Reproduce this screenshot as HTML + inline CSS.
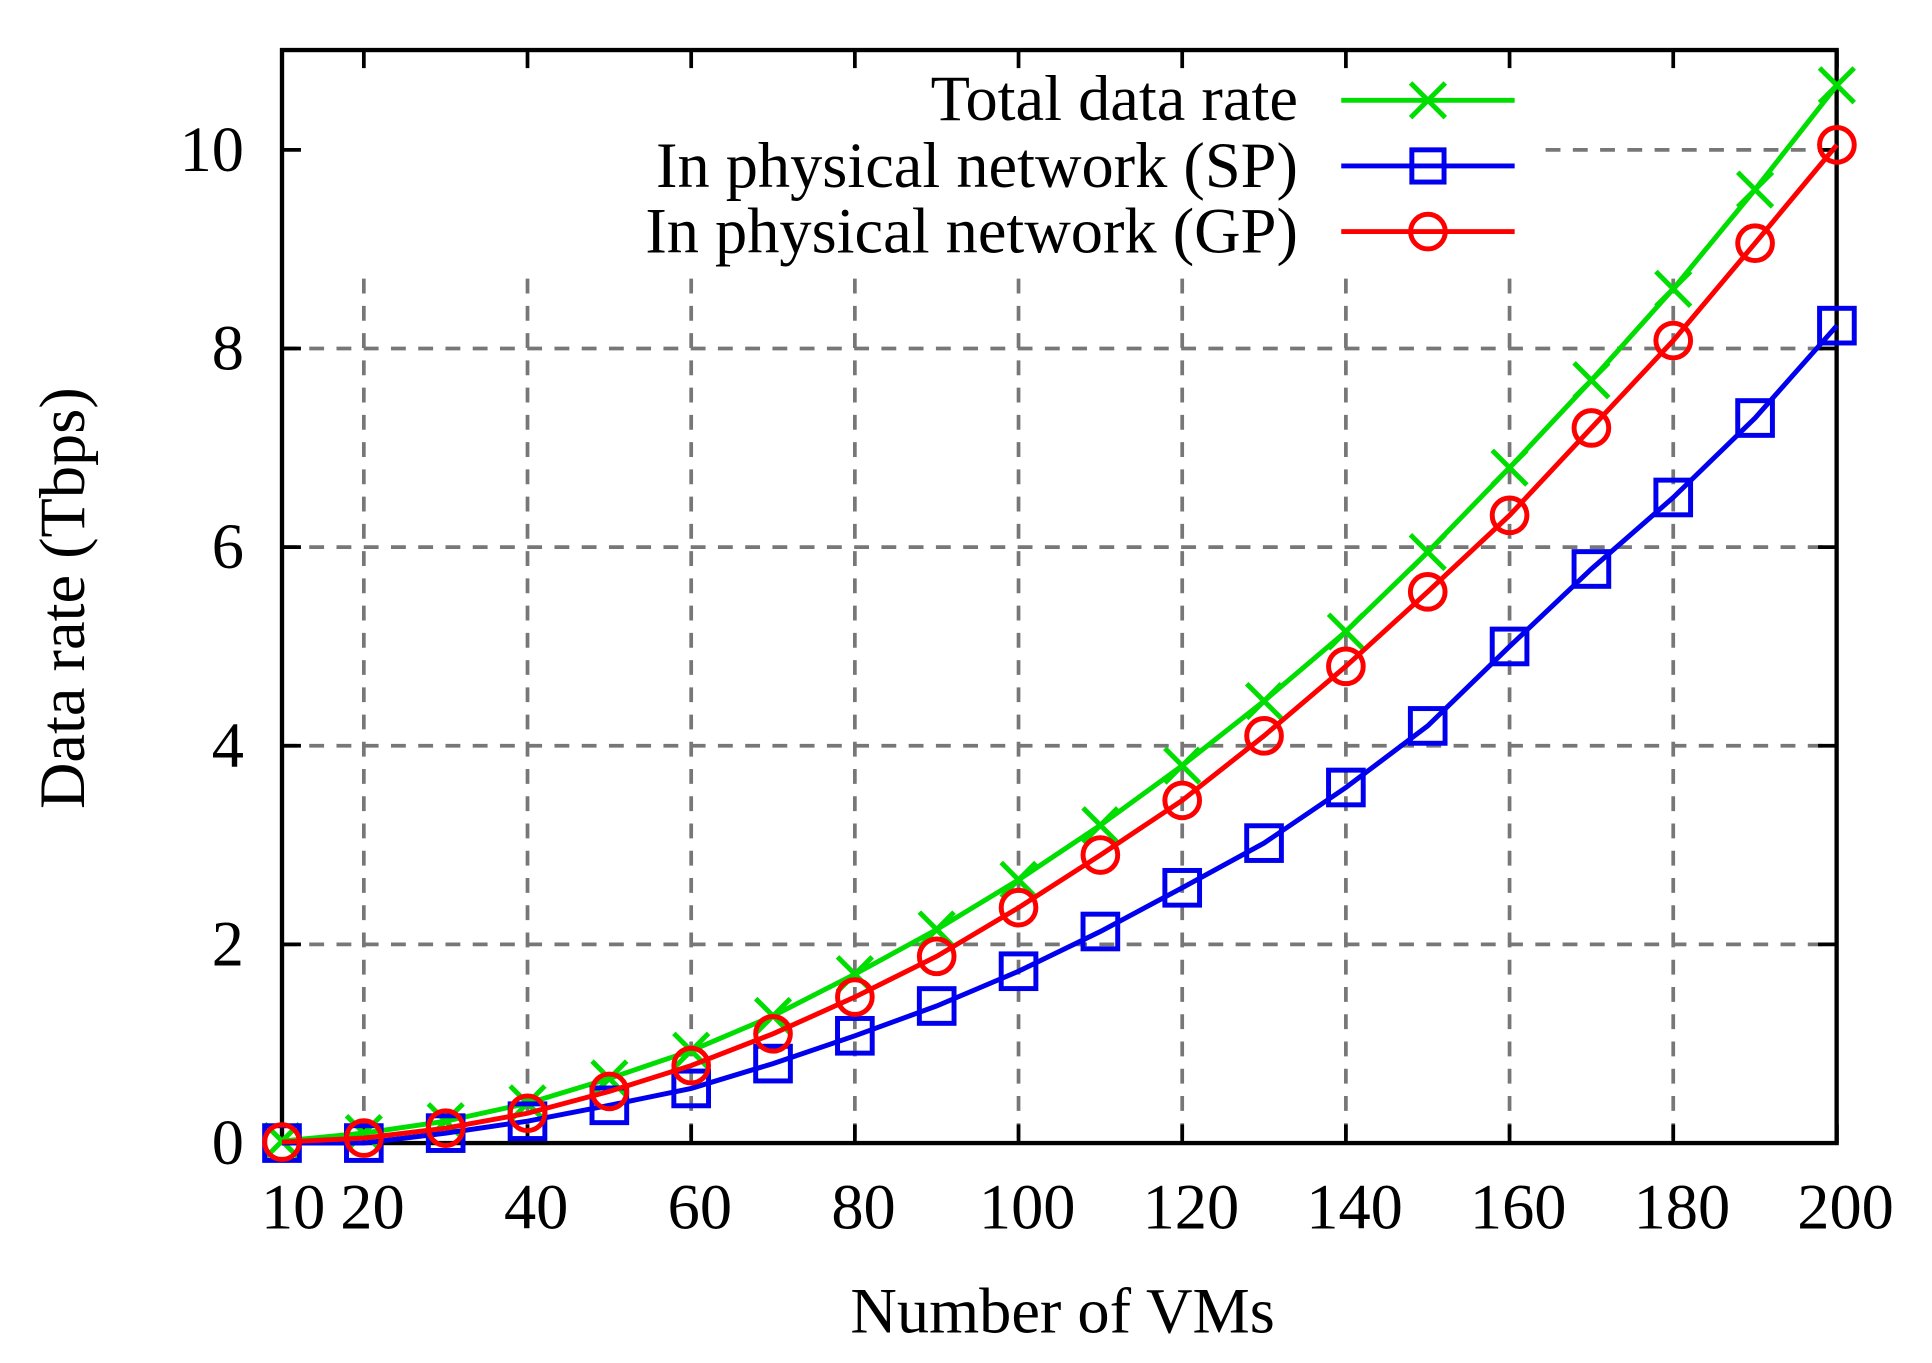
<!DOCTYPE html>
<html><head><style>body{margin:0;background:#fff}svg{display:block}</style></head><body>
<svg width="1932" height="1363" viewBox="0 0 1560 1100.6" preserveAspectRatio="none" xmlns="http://www.w3.org/2000/svg" font-family="Liberation Serif, serif">
<rect width="1560" height="1101" fill="#fff"/>
<g stroke="#777" stroke-width="3" stroke-dasharray="12,10" fill="none" id="grid"></g>
<rect x="227.7" y="40.4" width="1255.3" height="882.6" fill="none" stroke="#000" stroke-width="3.5"/>
<g id="ticks" stroke="#000" stroke-width="3"></g>
<g font-size="52" fill="#000" id="labels"></g>
<text x="858" y="1076" font-size="52" text-anchor="middle">Number of VMs</text>
<text transform="translate(68,483) rotate(-90)" font-size="52" text-anchor="middle">Data rate (Tbps)</text>
<g font-size="52" text-anchor="end">
<text x="1048" y="97">Total data rate</text>
<text x="1048" y="151">In physical network (SP)</text>
<text x="1048" y="204">In physical network (GP)</text>
</g>
<g stroke-width="4" fill="none">
<line x1="1083" y1="81" x2="1223" y2="81" stroke="#00dd00"/>
<path d="M1139 67L1167 95M1139 95L1167 67" stroke="#00dd00"/>
<line x1="1083" y1="134" x2="1223" y2="134" stroke="#0000ee"/>
<rect x="1140" y="121" width="26" height="26" stroke="#0000ee"/>
<line x1="1083" y1="187" x2="1223" y2="187" stroke="#ff0000"/>
<circle cx="1153" cy="187" r="14" stroke="#ff0000"/>
</g>
<g id="series" stroke-width="4" fill="none"></g>
</svg>
<script>
const ns="http://www.w3.org/2000/svg";
const X=v=>227.7+(v-10)*6.608, Y=v=>923-v*80.2;
function el(p,t,a,txt){const e=document.createElementNS(ns,t);for(const k in a)e.setAttribute(k,a[k]);if(txt!==undefined)e.textContent=txt;document.getElementById(p).appendChild(e);}
const xt=[20,40,60,80,100,120,140,160,180,200];
xt.forEach(v=>{if(v<200)el('grid','line',{x1:X(v),y1:225,x2:X(v),y2:923});});
[2,4,6,8].forEach(v=>el('grid','line',{x1:227.7,y1:Y(v),x2:1483,y2:Y(v)}));
el('grid','line',{x1:1248,y1:Y(10),x2:1483,y2:Y(10)});
[10,...xt].forEach(v=>{el('ticks','line',{x1:X(v),y1:923,x2:X(v),y2:908});el('ticks','line',{x1:X(v),y1:40,x2:X(v),y2:55});});
[0,2,4,6,8,10].forEach(v=>{el('ticks','line',{x1:227.7,y1:Y(v),x2:243,y2:Y(v)});el('ticks','line',{x1:1483,y1:Y(v),x2:1468,y2:Y(v)});
el('labels','text',{x:197,y:Y(v)+17,'text-anchor':'end'},v);});
el('labels','text',{x:X(10)+9,y:992,'text-anchor':'middle'},10);
xt.forEach(v=>el('labels','text',{x:X(v)+7,y:992,'text-anchor':'middle'},v));
const xs=[];for(let i=10;i<=200;i+=10)xs.push(i);
const T=[0.02,0.1,0.22,0.4,0.65,0.93,1.28,1.7,2.15,2.65,3.2,3.8,4.45,5.15,5.95,6.8,7.68,8.6,9.6,10.65];
const G=[0.01,0.05,0.15,0.3,0.52,0.78,1.1,1.47,1.88,2.37,2.9,3.45,4.1,4.8,5.55,6.32,7.2,8.08,9.06,10.05];
const S=[0,0,0.1,0.22,0.38,0.55,0.8,1.08,1.38,1.73,2.13,2.57,3.02,3.58,4.2,5.0,5.78,6.5,7.3,8.23];
function ser(d,c,m){el('series','polyline',{points:xs.map((x,i)=>X(x)+','+Y(d[i])).join(' '),stroke:c});
xs.forEach((x,i)=>{const cx=X(x),cy=Y(d[i]);
if(m=='x')el('series','path',{d:`M${cx-14} ${cy-14}L${cx+14} ${cy+14}M${cx-14} ${cy+14}L${cx+14} ${cy-14}`,stroke:c});
else if(m=='s')el('series','rect',{x:cx-14,y:cy-14,width:28,height:28,stroke:c});
else el('series','circle',{cx,cy,r:14,stroke:c});});}
ser(T,'#00dd00','x');ser(S,'#0000ee','s');ser(G,'#ff0000','o');
</script>
</body></html>
